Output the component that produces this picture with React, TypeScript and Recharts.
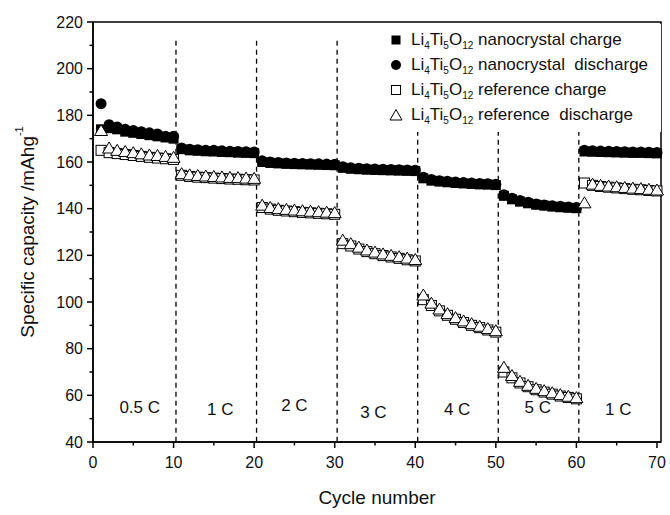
import React from 'react';
import {
  ScatterChart,
  Scatter,
  XAxis,
  YAxis,
  ReferenceLine,
  ReferenceDot,
  ReferenceArea,
  Legend,
} from 'recharts';

const cycles = [
  1, 2, 3, 4, 5, 6, 7, 8, 9, 10,
  11, 12, 13, 14, 15, 16, 17, 18, 19, 20,
  21, 22, 23, 24, 25, 26, 27, 28, 29, 30,
  31, 32, 33, 34, 35, 36, 37, 38, 39, 40,
  41, 42, 43, 44, 45, 46, 47, 48, 49, 50,
  51, 52, 53, 54, 55, 56, 57, 58, 59, 60,
  61, 62, 63, 64, 65, 66, 67, 68, 69, 70,
];

const nanoCharge = [
  174, 174.5, 174, 173, 172.5, 172, 171.5, 171, 170.5, 170,
  165.5, 165, 164.8, 164.6, 164.5, 164.3, 164.2, 164, 163.9, 163.8,
  160, 159.6, 159.4, 159.2, 159.1, 159, 158.9, 158.8, 158.7, 158.6,
  157.5, 157.1, 156.9, 156.7, 156.6, 156.5, 156.4, 156.3, 156.2, 156.1,
  153, 152, 151.6, 151.3, 151, 150.8, 150.6, 150.4, 150.3, 150.1,
  145.5, 144, 143, 142.3, 141.7, 141.3, 140.9, 140.6, 140.4, 140.2,
  164.5, 164.4, 164.3, 164.2, 164.1, 164, 163.9, 163.9, 163.8, 163.7,
];

const nanoDischarge = [
  185, 176, 175, 174, 173.5, 173, 172.5, 172, 171, 171,
  166, 165.5, 165.3, 165, 165, 164.8, 164.6, 164.5, 164.4, 164.3,
  160.5, 160, 159.8, 159.6, 159.5, 159.4, 159.3, 159.2, 159.1, 159,
  158, 157.5, 157.3, 157.1, 157, 156.9, 156.8, 156.7, 156.6, 156.5,
  153.5, 152.5, 152, 151.7, 151.4, 151.2, 151, 150.8, 150.7, 150.5,
  146, 144.5, 143.5, 142.7, 142, 141.6, 141.2, 141, 140.7, 140.5,
  165, 164.8, 164.7, 164.6, 164.5, 164.4, 164.3, 164.3, 164.2, 164.1,
];

const refCharge = [
  165, 164, 163.6, 163.2, 162.8, 162.4, 162, 161.7, 161.4, 161.1,
  154.3, 153.8, 153.5, 153.3, 153.1, 152.9, 152.7, 152.6, 152.4, 152.3,
  140.5, 139.8, 139.3, 139, 138.7, 138.4, 138.2, 138, 137.8, 137.6,
  125, 124, 122.7, 121.6, 120.7, 119.9, 119.3, 118.7, 118.1, 117.6,
  101, 98.5, 96.2, 94.3, 92.6, 91.2, 90, 89, 88, 87.1,
  70, 67.5, 65.3, 63.7, 62.4, 61.4, 60.5, 59.7, 59.1, 58.5,
  151, 150, 149.5, 149.2, 148.9, 148.6, 148.3, 148.1, 147.8, 147.6,
];

const refDischarge = [
  173.5, 166, 165, 164.5, 164, 163.5, 163, 162.8, 162.4, 162,
  155, 154.5, 154.2, 154, 153.8, 153.6, 153.4, 153.3, 153.1, 153,
  141.5, 140.5, 140, 139.7, 139.4, 139.1, 138.9, 138.7, 138.5, 138.3,
  126.5, 125, 123.5, 122.3, 121.4, 120.6, 120, 119.4, 118.8, 118.2,
  103, 99.5, 97, 95, 93.3, 91.9, 90.7, 89.6, 88.6, 87.7,
  72, 68.5, 66, 64.3, 63, 62, 61.1, 60.3, 59.6, 59,
  142.5, 150.5, 150, 149.7, 149.4, 149.1, 148.8, 148.6, 148.3, 148,
];

// rate step boundaries and labels
const rateBreaks = [10.3, 20.3, 30.3, 40.3, 50.3, 60.3];
const rateLabels = ['0.5 C', '1 C', '2 C', '3 C', '4 C', '5 C', '1 C'];
const rateLabelX = [5.8, 15.8, 25, 34.8, 45.2, 55.2, 65.2];
const rateLabelY = [55, 54, 56, 53, 54, 55, 54];

const xTicks = [0, 5, 10, 15, 20, 25, 30, 35, 40, 45, 50, 55, 60, 65, 70];
const yTicks = [40, 50, 60, 70, 80, 90, 100, 110, 120, 130, 140, 150, 160, 170, 180, 190, 200, 210, 220];

const FONT = '"Liberation Sans", Arial, Helvetica, sans-serif';

const toPoints = (ys: number[]) => cycles.map((c, i) => ({ x: c, y: ys[i] }));

const FilledSquare = (p: any) => (
  <rect x={p.cx - 5} y={p.cy - 5} width={10} height={10} fill="#000" />
);
const FilledCircle = (p: any) => <circle cx={p.cx} cy={p.cy} r={5.5} fill="#000" />;
const OpenSquare = (p: any) => (
  <rect x={p.cx - 5} y={p.cy - 5} width={10} height={10} fill="#fff" stroke="#000" strokeWidth={1} />
);
const OpenTriangle = (p: any) => (
  <path
    d={`M${p.cx},${p.cy - 6} L${p.cx + 6.5},${p.cy + 5} L${p.cx - 6.5},${p.cy + 5} Z`}
    fill="#fff"
    stroke="#000"
    strokeWidth={1}
  />
);

const series = [
  { name: 'nanocrystal charge', data: nanoCharge, shape: FilledSquare, icon: 'fs' },
  { name: 'nanocrystal  discharge', data: nanoDischarge, shape: FilledCircle, icon: 'fc' },
  { name: 'reference charge', data: refCharge, shape: OpenSquare, icon: 'os' },
  { name: 'reference  discharge', data: refDischarge, shape: OpenTriangle, icon: 'ot' },
];

const LegendIcon = ({ kind }: { kind: string }) => (
  <svg width={14} height={14} style={{ display: 'block' }}>
    {kind === 'fs' && <rect x={2.5} y={2.5} width={9} height={9} fill="#000" />}
    {kind === 'fc' && <circle cx={7} cy={7} r={5} fill="#000" />}
    {kind === 'os' && <rect x={2.5} y={2.5} width={9} height={9} fill="#fff" stroke="#000" />}
    {kind === 'ot' && <path d="M7,1.5 L13,12 L1,12 Z" fill="#fff" stroke="#000" />}
  </svg>
);

const subStyle = { fontSize: 10, lineHeight: 0 };

const LegendBox = () => (
  <div
    style={{
      background: '#fff',
      width: 276,
      height: 108,
      paddingTop: 3,
      boxSizing: 'border-box',
      fontFamily: FONT,
      fontSize: 17,
      color: '#111',
    }}
  >
    {series.map((s) => (
      <div key={s.name} style={{ display: 'flex', alignItems: 'center', height: 25, whiteSpace: 'pre' }}>
        <div style={{ width: 14, marginLeft: 4, marginRight: 8 }}>
          <LegendIcon kind={s.icon} />
        </div>
        <span>
          Li<sub style={subStyle}>4</sub>Ti<sub style={subStyle}>5</sub>O<sub style={subStyle}>12</sub>{' '}
          {s.name}
        </span>
      </div>
    ))}
  </div>
);

const YTick = (props: any) => {
  const { x, y, payload } = props;
  const major = payload.value % 20 === 0;
  return (
    <g>
      <line x1={x} x2={x - (major ? 6 : 3.5)} y1={y} y2={y} stroke="#000" strokeWidth={1.5} />
      {major && (
        <text x={x - 10} y={y} dy="0.36em" textAnchor="end" fontSize={16} fontFamily={FONT} fill="#111">
          {payload.value}
        </text>
      )}
    </g>
  );
};

const XTick = (props: any) => {
  const { x, y, payload } = props;
  const major = payload.value % 10 === 0;
  return (
    <g>
      <line x1={x} x2={x} y1={y} y2={y + (major ? 6 : 3.5)} stroke="#000" strokeWidth={1.5} />
      {major && (
        <text x={x} y={y + 26} textAnchor="middle" fontSize={16} fontFamily={FONT} fill="#111">
          {payload.value}
        </text>
      )}
    </g>
  );
};

const YTitle = (props: any) => {
  const vb = props.viewBox;
  const cx = vb.x + 27;
  const cy = vb.y + vb.height / 2;
  return (
    <text
      x={cx}
      y={cy}
      transform={`rotate(-90 ${cx} ${cy})`}
      textAnchor="middle"
      dominantBaseline="central"
      fontSize={19}
      fontFamily={FONT}
      fill="#111"
    >
      Specific capacity /mAhg
      <tspan fontSize={11} dy={-8}>
        -1
      </tspan>
    </text>
  );
};

const XTitle = (props: any) => {
  const vb = props.viewBox;
  return (
    <text
      x={vb.x + vb.width / 2}
      y={vb.y + 55}
      textAnchor="middle"
      dominantBaseline="central"
      fontSize={19}
      fontFamily={FONT}
      fill="#111"
    >
      Cycle number
    </text>
  );
};

export default function App() {
  return (
    <div style={{ position: 'absolute', left: 0, top: 0, width: 670, height: 515, background: '#fff' }}>
      <ScatterChart width={670} height={515} margin={{ top: 22, right: 9, left: 0, bottom: 23 }}>
        <ReferenceArea x1={0} x2={70.5} y1={40} y2={220} fill="none" stroke="#000" strokeWidth={1.5} />
        {rateBreaks.map((b) => (
          <ReferenceLine
            key={b}
            segment={[
              { x: b, y: 212 },
              { x: b, y: 40 },
            ]}
            stroke="#000"
            strokeWidth={1.3}
            strokeDasharray="5 4"
          />
        ))}
        {rateLabels.map((t, i) => (
          <ReferenceDot
            key={i}
            x={rateLabelX[i]}
            y={rateLabelY[i]}
            r={0}
            fill="none"
            stroke="none"
            label={{ value: t, position: 'center', fontSize: 17, fontFamily: FONT, fill: '#111' }}
          />
        ))}
        <XAxis
          type="number"
          dataKey="x"
          domain={[0, 70.5]}
          ticks={xTicks}
          interval={0}
          height={50}
          tickSize={0}
          tickMargin={0}
          tickLine={false}
          axisLine={{ stroke: '#000', strokeWidth: 1.5 }}
          tick={<XTick />}
          label={<XTitle />}
        />
        <YAxis
          type="number"
          dataKey="y"
          domain={[40, 220]}
          ticks={yTicks}
          interval={0}
          width={93}
          tickSize={0}
          tickMargin={0}
          tickLine={false}
          axisLine={{ stroke: '#000', strokeWidth: 1.5 }}
          tick={<YTick />}
          label={<YTitle />}
        />
        {series.map((s) => (
          <Scatter
            key={s.name}
            name={s.name}
            data={toPoints(s.data)}
            shape={s.shape}
            isAnimationActive={false}
          />
        ))}
        <Legend
          layout="vertical"
          align="center"
          verticalAlign="middle"
          wrapperStyle={{ left: 385, top: 24, width: 276, height: 108 }}
          content={() => <LegendBox />}
        />
      </ScatterChart>
    </div>
  );
}
